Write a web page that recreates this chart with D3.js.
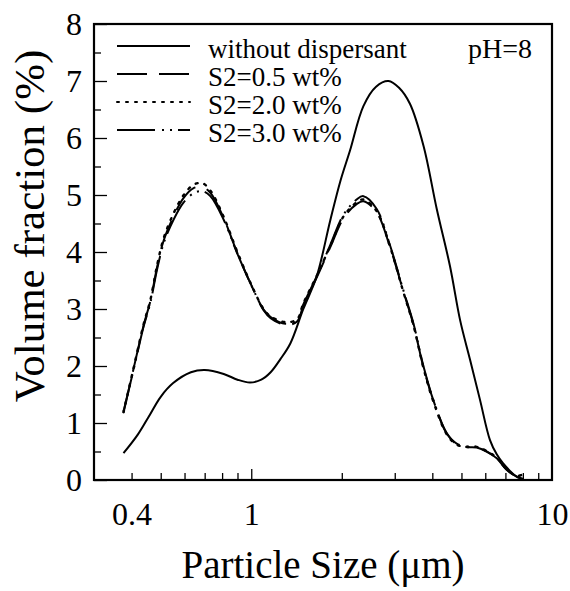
<!DOCTYPE html>
<html>
<head>
<meta charset="utf-8">
<script src="https://cdn.jsdelivr.net/npm/d3@7"></script>
<style>
body { margin: 0; background: #fff; }
svg text { font-family: "Liberation Serif", "DejaVu Serif", serif; fill: #000; }
</style>
</head>
<body>
<script>
// particle size (um) and volume fraction (%)
var sizeNone = [0.376, 0.42, 0.456, 0.50, 0.55, 0.63, 0.70, 0.81, 0.90, 0.99,
    1.08, 1.16, 1.25, 1.35, 1.49, 1.65, 1.83, 1.98, 2.13, 2.36, 2.60, 2.86,
    3.10, 3.37, 3.74, 4.14, 4.58, 4.95, 5.34, 5.76, 6.22, 6.55, 6.88, 7.63, 8.0];
var volNone = [0.47, 0.80, 1.11, 1.46, 1.70, 1.89, 1.93, 1.86, 1.76, 1.71,
    1.76, 1.89, 2.12, 2.40, 3.00, 3.57, 4.55, 5.25, 5.78, 6.56, 6.90, 7.00,
    6.88, 6.60, 5.86, 4.75, 3.75, 2.80, 2.11, 1.41, 0.70, 0.45, 0.29, 0.06, 0.02];

// the three dispersant curves share one set of sizes
var sizeS2 = [0.376, 0.406, 0.439, 0.462, 0.486, 0.512, 0.552, 0.596, 0.643,
    0.686, 0.731, 0.809, 0.896, 0.992, 1.099, 1.16, 1.30, 1.42, 1.49, 1.65,
    1.83, 2.03, 2.24, 2.36, 2.61, 2.90, 3.20, 3.46, 3.74, 4.03, 4.47, 4.82,
    5.20, 5.62, 6.06, 6.55, 7.07, 7.63, 8.0];
var volS2a = [1.18, 1.95, 2.72, 3.14, 3.73, 4.21, 4.63, 4.95, 5.12, 5.14,
    5.04, 4.60, 4.00, 3.46, 2.98, 2.84, 2.72, 2.78, 3.06, 3.55, 4.08, 4.60,
    4.84, 4.89, 4.70, 4.07, 3.32, 2.73, 1.97, 1.40, 0.81, 0.63, 0.58, 0.57,
    0.50, 0.38, 0.18, 0.06, 0.02];
var volS2b = [1.19, 1.96, 2.74, 3.16, 3.76, 4.25, 4.68, 5.00, 5.18, 5.21,
    5.08, 4.62, 4.02, 3.47, 3.00, 2.87, 2.77, 2.82, 3.10, 3.58, 4.10, 4.63,
    4.87, 4.92, 4.72, 4.08, 3.31, 2.72, 1.96, 1.38, 0.80, 0.62, 0.58, 0.58,
    0.51, 0.39, 0.19, 0.07, 0.10];
var volS2c = [1.20, 1.93, 2.70, 3.11, 3.69, 4.16, 4.57, 4.87, 5.03, 5.07,
    4.98, 4.57, 3.99, 3.46, 2.99, 2.86, 2.74, 2.80, 3.08, 3.57, 4.12, 4.66,
    4.92, 4.98, 4.76, 4.10, 3.34, 2.75, 1.99, 1.41, 0.82, 0.64, 0.59, 0.58,
    0.50, 0.38, 0.18, 0.06, 0.02];

var seriesNames = ["without dispersant", "S2=0.5 wt%", "S2=2.0 wt%",
    "S2=3.0 wt%"];
var seriesDash = ["none", "30,12", "2,7", "38,7,2,6,2,6"];

var xLabelTicks = [0.4, 1, 10];
var xMajorTicks = [1];
var xMinorTicks = [0.4, 0.5, 0.6, 0.7, 0.8, 0.9, 2, 3, 4, 5, 6, 7, 8, 9];
var yLabelTicks = [0, 1, 2, 3, 4, 5, 6, 7, 8];
var yMinorTicks = [0.5, 1.5, 2.5, 3.5, 4.5, 5.5, 6.5, 7.5];

var serif = "'Liberation Serif', 'DejaVu Serif', serif";

// margins around the plot box
var margin = {top: 24, right: 18, bottom: 111, left: 94},
    width = 570 - margin.left - margin.right,
    height = 591 - margin.top - margin.bottom;

var svg = d3.select("body").append("svg")
    .attr("width", width + margin.left + margin.right)
    .attr("height", height + margin.top + margin.bottom)
    .append("g")
    .attr("transform", "translate(" + margin.left + "," + margin.top + ")");

var xScale = d3.scaleLog().domain([0.3, 10]).range([0, width]);
var yScale = d3.scaleLinear().domain([0, 8]).range([height, 0]);

// ticks point inward, labels come from a separate axis
svg.append("g")
    .attr("transform", "translate(0," + height + ")")
    .call(d3.axisBottom(xScale).tickValues(xMinorTicks).tickSize(-7)
        .tickFormat(""));
svg.append("g")
    .attr("transform", "translate(0," + height + ")")
    .call(d3.axisBottom(xScale).tickValues(xMajorTicks).tickSize(-11)
        .tickFormat(""));
svg.append("g")
    .attr("class", "xlab")
    .attr("transform", "translate(0," + height + ")")
    .call(d3.axisBottom(xScale).tickValues(xLabelTicks).tickSize(0)
        .tickPadding(22).tickFormat(d3.format("")));

svg.append("g")
    .call(d3.axisLeft(yScale).tickValues(yMinorTicks).tickSize(-7)
        .tickFormat(""));
svg.append("g")
    .attr("class", "ylab")
    .call(d3.axisLeft(yScale).tickValues(yLabelTicks).tickSize(-13)
        .tickPadding(12));

svg.selectAll(".domain").remove();
svg.selectAll(".tick line").attr("stroke", "#000").attr("stroke-width", 1.3);
svg.selectAll(".xlab text, .ylab text")
    .attr("font-size", 32)
    .attr("font-family", serif);

// frame
svg.append("rect")
    .attr("width", width)
    .attr("height", height)
    .attr("fill", "none")
    .attr("stroke", "#000")
    .attr("stroke-width", 2.2);

var line = d3.line()
    .x(function(d) { return xScale(d[0]); })
    .y(function(d) { return yScale(d[1]); })
    .curve(d3.curveCatmullRom.alpha(0.5));

var series = [
    d3.zip(sizeNone, volNone),
    d3.zip(sizeS2, volS2a),
    d3.zip(sizeS2, volS2b),
    d3.zip(sizeS2, volS2c)
];

svg.selectAll(".curve")
    .data(series)
    .enter()
    .append("path")
    .attr("class", "curve")
    .attr("d", line)
    .attr("fill", "none")
    .attr("stroke", "#000")
    .attr("stroke-width", function(d, i) { return i == 2 ? 2.4 : 2; })
    .attr("stroke-linecap", function(d, i) { return i == 2 ? "round" : "butt"; })
    .attr("stroke-dasharray", function(d, i) { return seriesDash[i]; });

// legend, top left inside the frame
var legend = svg.selectAll(".legend")
    .data(seriesNames)
    .enter()
    .append("g")
    .attr("class", "legend")
    .attr("transform", function(d, i) {
        return "translate(23," + (34 + i * 28) + ")";
    });

legend.append("line")
    .attr("x1", 0)
    .attr("x2", 73)
    .attr("y1", -12)
    .attr("y2", -12)
    .attr("stroke", "#000")
    .attr("stroke-width", 2)
    .attr("stroke-linecap", function(d, i) { return i == 2 ? "round" : "butt"; })
    .attr("stroke-dasharray", function(d, i) { return seriesDash[i]; });

legend.append("text")
    .attr("x", 91)
    .attr("font-size", 27)
    .attr("font-family", serif)
    .text(function(d) { return d; });

svg.append("text")
    .attr("x", 374)
    .attr("y", 34)
    .attr("font-size", 28)
    .attr("font-family", serif)
    .text("pH=8");

// axis titles
svg.append("text")
    .attr("x", width / 2)
    .attr("y", height + 98)
    .attr("text-anchor", "middle")
    .attr("font-size", 39)
    .attr("font-family", serif)
    .text("Particle Size (\u03bcm)");

svg.append("text")
    .attr("transform", "translate(-50," + (height / 2 - 26) + ") rotate(-90)")
    .attr("text-anchor", "middle")
    .attr("font-size", 43)
    .attr("font-family", serif)
    .text("Volume fraction (%)");
</script>
</body>
</html>
